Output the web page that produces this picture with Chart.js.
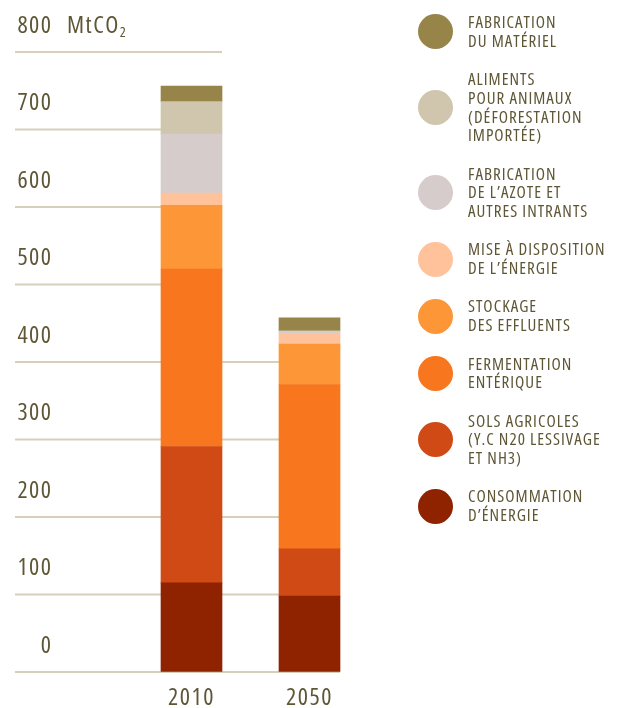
<!DOCTYPE html>
<html>
<head>
<meta charset="utf-8">
<script src="https://cdn.jsdelivr.net/npm/chart.js@4"></script>
<style>
  body { margin: 0; background: #fff; }
  #wrap { position: relative; width: 625px; height: 708px; }
  #legend {
    position: absolute; left: 418px; top: 13px;
    display: flex; flex-direction: column; gap: 19.7px;
    font-family: 'Open Sans', sans-serif; font-stretch: condensed; font-weight: 500;
    font-size: 17px; line-height: 18.7px; letter-spacing: 1px; color: #5f5636;
    white-space: nowrap;
  }
  .item { display: flex; align-items: center; }
  .dot { width: 35px; height: 35px; border-radius: 50%; flex: none; margin-right: 15px; }
</style>
</head>
<body>
<div id="wrap">
  <canvas id="ctx" width="625" height="708"></canvas>
  <div id="legend"></div>
</div>
<script>
const FONT = "'Open Sans', sans-serif";
const TEXT = '#5f5636';
const GRID = '#d8cfba';

const years = ['2010', '2050'];

// stacked from the bottom up
const seriesNames = [
  ['CONSOMMATION', 'D’ÉNERGIE'],
  ['SOLS AGRICOLES', '(Y.C N20 LESSIVAGE', 'ET NH3)'],
  ['FERMENTATION', 'ENTÉRIQUE'],
  ['STOCKAGE', 'DES EFFLUENTS'],
  ['MISE À DISPOSITION', 'DE L’ÉNERGIE'],
  ['FABRICATION', 'DE L’AZOTE ET', 'AUTRES INTRANTS'],
  ['ALIMENTS', 'POUR ANIMAUX', '(DÉFORESTATION', 'IMPORTÉE)'],
  ['FABRICATION', 'DU MATÉRIEL']
];
const seriesColors = ['#8f2300', '#cf4a14', '#f8761d', '#fd9636', '#ffc29b', '#d6cccb', '#d0c6ae', '#968449'];

const consommation = [115, 98];
const sols = [176, 61];
const fermentation = [229, 212];
const stockage = [82, 52];
const miseDisposition = [16, 14];
const azote = [76, 3];
const aliments = [42, 0];
const materiel = [20, 17];

const seriesValues = [consommation, sols, fermentation, stockage, miseDisposition, azote, aliments, materiel];
const yTicks = [0, 100, 200, 300, 400, 500, 600, 700, 800];

const datasets = seriesValues.map((vals, i) => ({
  label: seriesNames[i].join(' '),
  data: vals,
  backgroundColor: seriesColors[i],
  borderWidth: 0,
  barThickness: 61
}));

const tickFont = { family: FONT, size: 24, weight: '500 condensed' };

// gridlines of varying length, drawn behind the bars
const gridPlugin = {
  id: 'grid',
  beforeDraw(chart) {
    chart.ctx.letterSpacing = '1.5px';
  },
  beforeDatasetsDraw(chart) {
    const y = chart.scales.y;
    const bars = chart.getDatasetMeta(0).data;
    const totals = years.map((_, j) => seriesValues.reduce((s, v) => s + v[j], 0));
    const ctx = chart.ctx;
    ctx.save();
    ctx.strokeStyle = GRID;
    ctx.lineWidth = 2;
    yTicks.forEach(v => {
      const py = y.getPixelForValue(v);
      const b = v <= totals[1] ? bars[1] : bars[0];
      ctx.beginPath();
      ctx.moveTo(15, py);
      ctx.lineTo(b.x + b.width / 2, py);
      ctx.stroke();
    });
    ctx.restore();
  },
  afterDraw(chart) {
    const y = chart.scales.y;
    const ctx = chart.ctx;
    const py = y.getPixelForValue(800) - 26;
    ctx.save();
    ctx.fillStyle = TEXT;
    ctx.textBaseline = 'middle';
    ctx.textAlign = 'left';
    ctx.font = "500 condensed 24px " + FONT;
    ctx.letterSpacing = '1.5px';
    ctx.fillText('MtCO', 67, py);
    const w = ctx.measureText('MtCO').width;
    ctx.font = "500 condensed 14px " + FONT;
    ctx.fillText('2', 67 + w, py + 7);
    ctx.restore();
  }
};

new Chart(document.getElementById('ctx'), {
  type: 'bar',
  data: { labels: years, datasets: datasets },
  options: {
    responsive: false,
    animation: false,
    layout: { padding: { left: 15, right: 256.5, top: 52, bottom: 0 } },
    plugins: { legend: { display: false }, tooltip: { enabled: false } },
    scales: {
      x: {
        stacked: true,
        grid: { display: false },
        border: { display: false },
        ticks: { color: TEXT, font: tickFont, padding: 4 },
        afterFit(s) { s.height = 36; }
      },
      y: {
        stacked: true,
        min: 0, max: 800,
        grid: {
          display: true, drawOnChartArea: false, drawTicks: true,
          tickLength: 78, tickColor: 'rgba(0,0,0,0)', color: 'rgba(0,0,0,0)'
        },
        border: { display: false },
        afterBuildTicks(s) { s.ticks = yTicks.map(v => ({ value: v })); },
        ticks: { color: TEXT, font: tickFont, padding: 2, labelOffset: -26 },
        afterFit(s) { s.width = 117.5; }
      }
    }
  },
  plugins: [gridPlugin]
});

// legend, top to bottom = top of stack first
const legend = document.getElementById('legend');
for (let i = seriesNames.length - 1; i >= 0; i--) {
  const item = document.createElement('div');
  item.className = 'item';
  const dot = document.createElement('div');
  dot.className = 'dot';
  dot.style.background = seriesColors[i];
  const txt = document.createElement('div');
  txt.innerHTML = seriesNames[i].join('<br>');
  item.appendChild(dot);
  item.appendChild(txt);
  legend.appendChild(item);
}
</script>
</body>
</html>
